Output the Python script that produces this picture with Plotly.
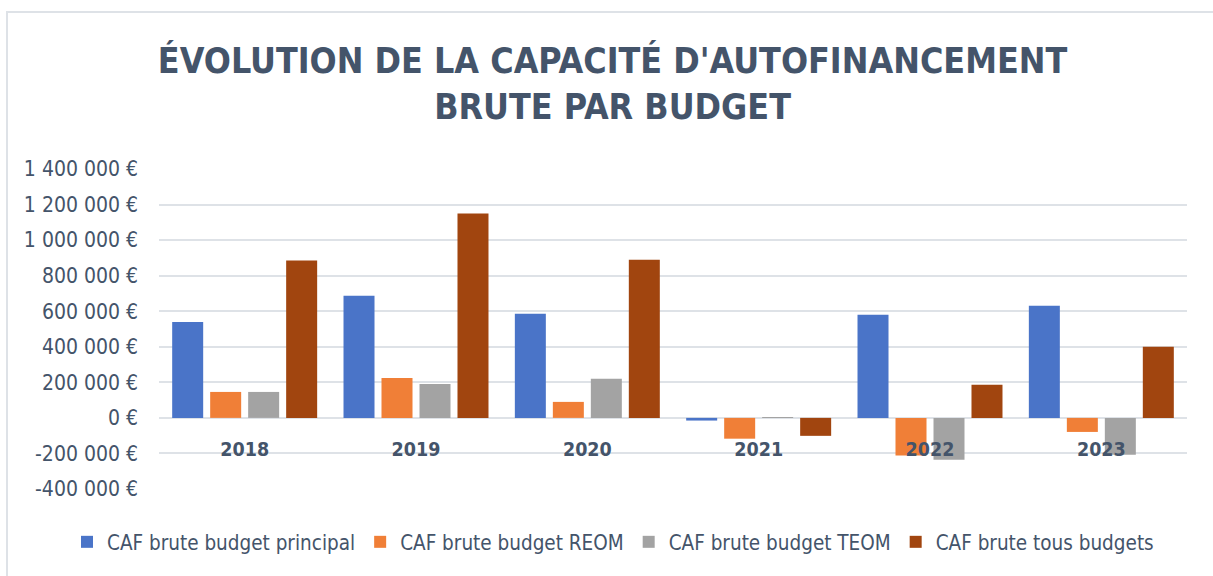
import plotly.graph_objects as go

years = ["2018", "2019", "2020", "2021", "2022", "2023"]
caf_principal = [540000, 687000, 586000, -15000, 580000, 631000]
caf_reom = [146000, 225000, 90000, -117000, -212000, -79000]
caf_teom = [146000, 191000, 220000, 5000, -235000, -208000]
caf_tous = [885000, 1149000, 890000, -101000, 186000, 400000]

series_names = ["CAF brute budget principal", "CAF brute budget REOM",
                "CAF brute budget TEOM", "CAF brute tous budgets"]
series_values = [caf_principal, caf_reom, caf_teom, caf_tous]
series_colors = ["#4A74C8", "#F07F37", "#A3A3A3", "#A1450F"]

tick_vals = [-400000, -200000, 0, 200000, 400000, 600000, 800000,
             1000000, 1200000, 1400000]
tick_text = ["-400 000 €", "-200 000 €", "0 €", "200 000 €", "400 000 €",
             "600 000 €", "800 000 €", "1 000 000 €", "1 200 000 €", "1 400 000 €"]

title_text = "ÉVOLUTION DE LA CAPACITÉ D'AUTOFINANCEMENT<br>BRUTE PAR BUDGET"

FONT = "DejaVu Sans Condensed, DejaVu Sans, sans-serif"
TXT = "#44546A"

fig = go.Figure()
for name, vals, col in zip(series_names, series_values, series_colors):
    fig.add_trace(go.Bar(x=years, y=vals, name=name,
                         marker=dict(color=col, line=dict(width=0))))

W, H = 1213, 576
L, R, T, B = 159, 26, 169, 87
pw, ph = W - L - R, H - T - B

def px_to_paper_x(px):
    return (px - L) / pw

def px_to_paper_y(py):
    return (H - B - py) / ph

fig.update_layout(
    width=W, height=H,
    margin=dict(l=L, r=R, t=T, b=B),
    paper_bgcolor="white", plot_bgcolor="white",
    barmode="group", bargap=0.113, bargroupgap=0.184,
    font=dict(family=FONT, color=TXT),
    title=dict(text=title_text, x=0.505, xanchor="center",
               y=1 - 73 / H, yanchor="middle",
               font=dict(family=FONT, size=35.5, color=TXT, weight="bold")),
    showlegend=True,
    legend=dict(orientation="h", x=px_to_paper_x(67), xanchor="left",
                y=px_to_paper_y(542), yanchor="middle",
                font=dict(size=20.5, color=TXT, family=FONT),
                bgcolor="rgba(0,0,0,0)", traceorder="normal"),
    xaxis=dict(anchor="free", position=400000 / 1800000,
               showgrid=False, showline=False, ticks="",
               ticklabelstandoff=18,
               tickfont=dict(size=19.5, color=TXT, family=FONT, weight="bold")),
    yaxis=dict(range=[-400000, 1400000], tickvals=tick_vals, ticktext=tick_text,
               showgrid=True, gridcolor="#DEE2E7", gridwidth=2,
               zeroline=True, zerolinecolor="#DEE2E7", zerolinewidth=2,
               showline=False, ticks="", ticklabelstandoff=20,
               tickfont=dict(size=21, color=TXT, family=FONT)),
    shapes=[dict(type="rect", xref="paper", yref="paper",
                 x0=px_to_paper_x(7), x1=px_to_paper_x(1230),
                 y0=px_to_paper_y(600), y1=px_to_paper_y(12),
                 line=dict(color="#DEE2E7", width=2), layer="below")],
)

fig.write_html("out.html", config={"displayModeBar": False},
               post_script="document.body.style.margin='0px';")
